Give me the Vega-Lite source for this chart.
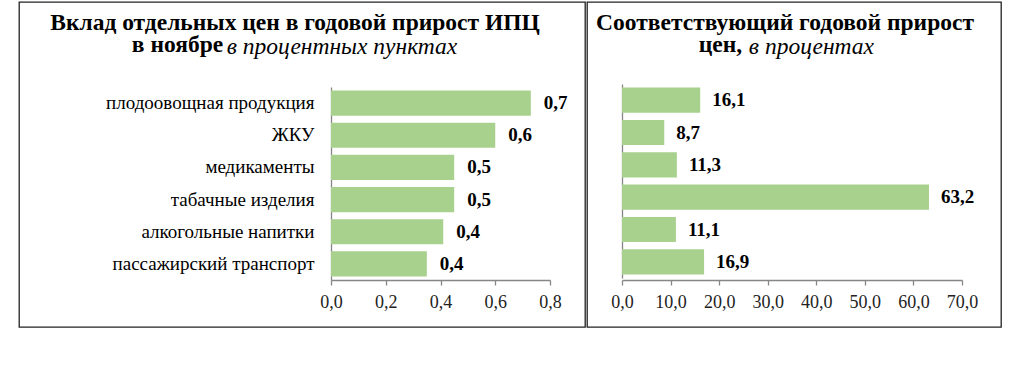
{
  "$schema": "https://vega.github.io/schema/vega-lite/v6.json",
  "padding": {"left": 18, "top": 1, "right": 0, "bottom": 0},
  "background": "white",
  "spacing": 0,
  "config": {
    "locale": {"number": {"decimal": ",", "thousands": "\u00a0", "grouping": [3], "currency": ["", ""]}},
    "view": {"stroke": "#222222", "strokeWidth": 1.3},
    "font": "Times New Roman, Liberation Serif, serif",
    "concat": {"spacing": 0}
  },
  "datasets": {
    "d": [
      {"item": "плодоовощная продукция", "contrib": 0.73, "clabel": "0,7", "growth": 16.1},
      {"item": "ЖКУ", "contrib": 0.60, "clabel": "0,6", "growth": 8.7},
      {"item": "медикаменты", "contrib": 0.45, "clabel": "0,5", "growth": 11.3},
      {"item": "табачные изделия", "contrib": 0.45, "clabel": "0,5", "growth": 63.2},
      {"item": "алкогольные напитки", "contrib": 0.41, "clabel": "0,4", "growth": 11.1},
      {"item": "пассажирский транспорт", "contrib": 0.35, "clabel": "0,4", "growth": 16.9}
    ]
  },
  "hconcat": [
    {
      "width": 566,
      "height": 325,
      "data": {"name": "d"},
      "title": {
        "text": ["Вклад отдельных цен в годовой прирост ИПЦ", "в ноябре\u00a0\u00a0\u00a0\u00a0\u00a0\u00a0\u00a0\u00a0\u00a0\u00a0\u00a0\u00a0\u00a0\u00a0\u00a0\u00a0\u00a0\u00a0\u00a0\u00a0\u00a0\u00a0\u00a0\u00a0\u00a0\u00a0\u00a0\u00a0\u00a0\u00a0\u00a0\u00a0\u00a0\u00a0\u00a0\u00a0\u00a0\u00a0\u00a0\u00a0\u200b"],
        "subtitle": "\u200b\u00a0\u00a0\u00a0\u00a0\u00a0\u00a0\u00a0\u00a0\u00a0\u00a0\u00a0\u00a0\u00a0\u00a0\u00a0\u00a0в процентных пунктах",
        "font": "Times New Roman, Liberation Serif, serif",
        "fontSize": 23.5,
        "fontWeight": "bold",
        "color": "#000000",
        "lineHeight": 22,
        "subtitleFont": "Times New Roman, Liberation Serif, serif",
        "subtitleFontSize": 23.5,
        "subtitleFontStyle": "italic",
        "subtitleFontWeight": "normal",
        "subtitleColor": "#000000",
        "subtitlePadding": -22,
        "anchor": "middle",
        "frame": "group",
        "offset": -56,
        "dx": -7
      },
      "encoding": {
        "y": {
          "field": "item", "type": "nominal", "sort": null,
          "scale": {"range": [85, 278], "paddingInner": 0.22, "paddingOuter": 0.11},
          "axis": {
            "title": null, "offset": -312, "ticks": false, "labelPadding": 17,
            "labelFont": "Times New Roman, Liberation Serif, serif", "labelFontSize": 19, "labelColor": "#000000",
            "domainColor": "#868686", "domainWidth": 1.3, "labelLimit": 400
          }
        }
      },
      "layer": [
        {
          "mark": {"type": "bar", "color": "#a9d18e"},
          "encoding": {
            "x": {
              "field": "contrib", "type": "quantitative",
              "scale": {"domain": [0, 0.8], "range": [312, 531]},
              "axis": {
                "title": null, "offset": -47, "values": [0, 0.2, 0.4, 0.6, 0.8], "format": ".1f",
                "grid": false, "tickSize": 5, "tickColor": "#868686", "tickWidth": 1.3,
                "domainColor": "#868686", "domainWidth": 1.3, "labelPadding": 8, "labelFlush": false,
                "labelFont": "Times New Roman, Liberation Serif, serif", "labelFontSize": 18, "labelColor": "#222222"
              }
            }
          }
        },
        {
          "mark": {"type": "text", "align": "left", "baseline": "middle", "dx": 13, "fontWeight": "bold", "fontSize": 19, "font": "Times New Roman, Liberation Serif, serif", "color": "#000000"},
          "encoding": {
            "x": {"field": "contrib", "type": "quantitative"},
            "text": {"field": "clabel"}
          }
        }
      ]
    },
    {
      "width": 414,
      "height": 325,
      "data": {"name": "d"},
      "title": {
        "text": ["Соответствующий годовой прирост", "цен,\u00a0\u00a0\u00a0\u00a0\u00a0\u00a0\u00a0\u00a0\u00a0\u00a0\u00a0\u00a0\u00a0\u00a0\u00a0\u00a0\u00a0\u00a0\u00a0\u00a0\u00a0\u00a0\u200b"],
        "subtitle": "\u200b\u00a0\u00a0\u00a0\u00a0\u00a0\u00a0\u00a0\u00a0\u00a0в процентах",
        "font": "Times New Roman, Liberation Serif, serif",
        "fontSize": 23.5,
        "fontWeight": "bold",
        "color": "#000000",
        "lineHeight": 22,
        "subtitleFont": "Times New Roman, Liberation Serif, serif",
        "subtitleFontSize": 23.5,
        "subtitleFontStyle": "italic",
        "subtitleFontWeight": "normal",
        "subtitleColor": "#000000",
        "subtitlePadding": -22,
        "anchor": "middle",
        "frame": "group",
        "offset": -56,
        "dx": -9
      },
      "encoding": {
        "y": {
          "field": "item", "type": "nominal", "sort": null,
          "scale": {"range": [82, 276], "paddingInner": 0.22, "paddingOuter": 0.11},
          "axis": {
            "title": null, "offset": -35, "ticks": false, "labels": false,
            "domainColor": "#868686", "domainWidth": 1.3
          }
        }
      },
      "layer": [
        {
          "mark": {"type": "bar", "color": "#a9d18e"},
          "encoding": {
            "x": {
              "field": "growth", "type": "quantitative",
              "scale": {"domain": [0, 70], "range": [35, 375]},
              "axis": {
                "title": null, "offset": -47, "values": [0, 10, 20, 30, 40, 50, 60, 70], "format": ".1f",
                "grid": false, "tickSize": 5, "tickColor": "#868686", "tickWidth": 1.3,
                "domainColor": "#868686", "domainWidth": 1.3, "labelPadding": 8, "labelFlush": false,
                "labelFont": "Times New Roman, Liberation Serif, serif", "labelFontSize": 18, "labelColor": "#222222"
              }
            }
          }
        },
        {
          "mark": {"type": "text", "align": "left", "baseline": "middle", "dx": 12, "fontWeight": "bold", "fontSize": 19, "font": "Times New Roman, Liberation Serif, serif", "color": "#000000"},
          "encoding": {
            "x": {"field": "growth", "type": "quantitative"},
            "text": {"field": "growth", "format": ".1f"}
          }
        }
      ]
    }
  ]
}
